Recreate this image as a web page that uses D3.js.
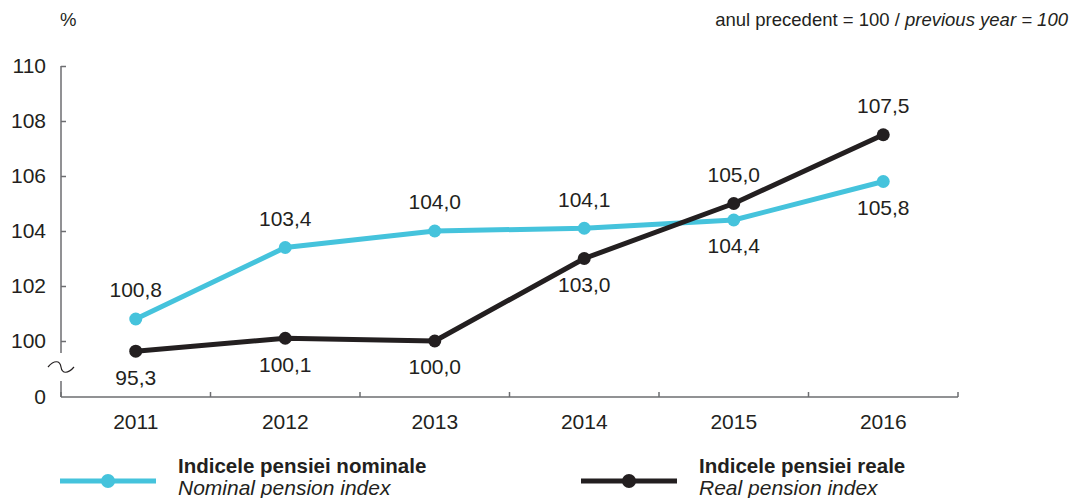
<!DOCTYPE html>
<html><head><meta charset="utf-8">
<script src="https://cdn.jsdelivr.net/npm/d3@7"></script>
<style>
body{margin:0;background:#fff;}
text{font-family:"Liberation Sans",Arial,Helvetica,sans-serif;fill:#231f20;}
</style></head>
<body><svg id="c" width="1074" height="498"></svg>
<script>
const years = ["2011","2012","2013","2014","2015","2016"];
const nominal = [100.8, 103.4, 104.0, 104.1, 104.4, 105.8];
const real = [95.3, 100.1, 100.0, 103.0, 105.0, 107.5];
const nominalLabelSide = ["above","above","above","above","below","below"];
const realLabelSide = ["below","below","below","below","above","above"];
const yTicks = [0, 100, 102, 104, 106, 108, 110];
const seriesNames = [["Indicele pensiei nominale","Nominal pension index"],["Indicele pensiei reale","Real pension index"]];
const colors = ["#45c3dc", "#231f20"];

const svg = d3.select("#c");
const fmt = v => d3.format(".1f")(v).replace(".", ",");
const FS = 21;

const x = d3.scaleBand().domain(years).range([61, 958]).paddingInner(0).paddingOuter(0);
const y = d3.scaleLinear().domain([0, 94, 100, 110]).range([397, 354, 341, 66]);
const axisColor = "#6d6e71";

// header
svg.append("text").attr("x", 60).attr("y", 26).attr("font-size", 18.5).text("%");
const hdr = svg.append("text").attr("x", 1068).attr("y", 26).attr("font-size", 18.5).attr("text-anchor", "end");
hdr.append("tspan").text("anul precedent = 100 / ");
hdr.append("tspan").attr("font-style", "italic").text("previous year = 100");

// y axis
const yAxis = svg.append("g").attr("transform", "translate(61,0)")
  .call(d3.axisLeft(y).tickValues(yTicks.filter(d => d > 0)).tickSize(-5).tickPadding(15).tickFormat(d3.format("d")));
yAxis.select(".domain").remove();
yAxis.selectAll(".tick line").attr("stroke", axisColor).attr("stroke-width", 1.5);
yAxis.selectAll(".tick text").attr("font-size", FS).attr("fill", "#231f20").style("font-family", "'Liberation Sans',Arial,sans-serif");
svg.append("text").attr("x", 46).attr("y", y(0)).attr("dy", "0.35em").attr("text-anchor", "end").attr("font-size", FS).text("0");
// broken y domain
svg.append("path").attr("fill", "none").attr("stroke", axisColor).attr("stroke-width", 1.5)
  .attr("d", `M61,${y(110)}V${y(100) + 12}M61,${y(0) - 16}V${y(0)}`);
// break symbol
const by = (y(100) + y(0)) / 2 - 2;
svg.append("path").attr("fill", "none").attr("stroke", "#231f20").attr("stroke-width", 1.2)
  .attr("d", `M48,${by}C54,${by - 7} 60,${by - 7} 61,${by}S68,${by + 7} 74,${by}`);

// x axis
svg.append("line").attr("x1", 61).attr("x2", 958).attr("y1", y(0)).attr("y2", y(0)).attr("stroke", axisColor).attr("stroke-width", 1.5);
const bounds = years.map(d => x(d)).concat([x.range()[1]]);
svg.selectAll(".xt").data(bounds).join("line").attr("class", "xt")
  .attr("x1", d => d).attr("x2", d => d).attr("y1", y(0)).attr("y2", y(0) - 5)
  .attr("stroke", axisColor).attr("stroke-width", 1.5);
svg.selectAll(".xl").data(years).join("text").attr("class", "xl")
  .attr("x", d => x(d) + x.bandwidth() / 2).attr("y", y(0) + 25).attr("dy", "0.35em")
  .attr("text-anchor", "middle").attr("font-size", FS).text(d => d);

const cx = d => x(d) + x.bandwidth() / 2;
const line = d3.line().x((d, i) => cx(years[i])).y(d => y(d));

function drawSeries(vals, sides, color) {
  svg.append("path").datum(vals).attr("fill", "none").attr("stroke", color).attr("stroke-width", 5)
    .attr("stroke-linejoin", "round").attr("d", line);
  svg.append("g").selectAll("circle").data(vals).join("circle")
    .attr("cx", (d, i) => cx(years[i])).attr("cy", d => y(d)).attr("r", 6.5).attr("fill", color);
  svg.append("g").selectAll("text").data(vals).join("text")
    .attr("x", (d, i) => cx(years[i])).attr("y", (d, i) => y(d) + (sides[i] === "above" ? -29 : 26))
    .attr("dy", "0.35em").attr("text-anchor", "middle").attr("font-size", FS).text(d => fmt(d));
}
drawSeries(nominal, nominalLabelSide, colors[0]);
drawSeries(real, realLabelSide, colors[1]);

// legend
const legX = [60, 581];
seriesNames.forEach((n, i) => {
  const g = svg.append("g").attr("transform", `translate(${legX[i]},481)`);
  g.append("line").attr("x1", 0).attr("x2", 96).attr("stroke", colors[i]).attr("stroke-width", 5);
  g.append("circle").attr("cx", 48).attr("r", 7).attr("fill", colors[i]);
  g.append("text").attr("x", 118).attr("y", -8).attr("font-size", 20.5).attr("font-weight", "bold").text(n[0]);
  g.append("text").attr("x", 118).attr("y", 14).attr("font-size", 21).attr("font-style", "italic").text(n[1]);
});
</script></body></html>
